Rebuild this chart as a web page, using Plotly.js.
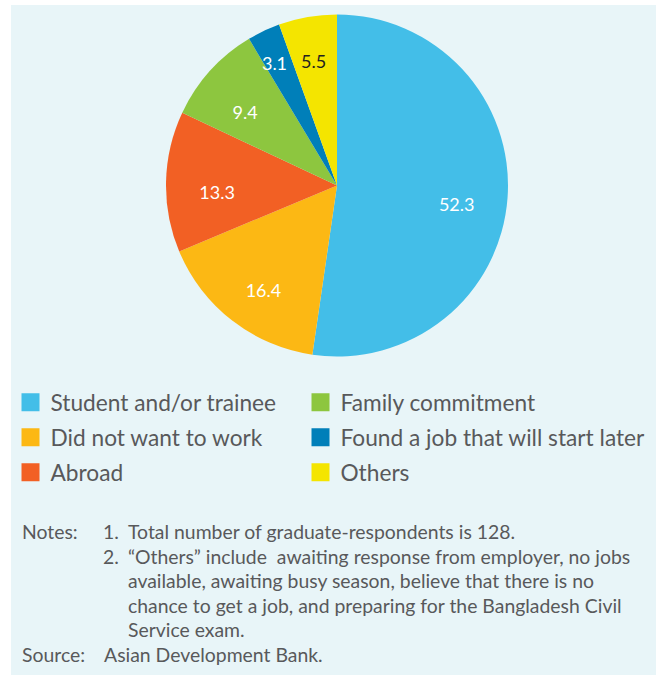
<!DOCTYPE html>
<html>
<head>
<meta charset="utf-8">
<script src="https://cdn.plot.ly/plotly-3.0.1.min.js"></script>
<style>
  html, body { margin: 0; padding: 0; background: #ffffff; }
  #chart { width: 656px; height: 675px; }
</style>
</head>
<body>
<div id="chart"></div>
<script>
// slices, clockwise from 12 o'clock
let categories = ['Student and/or trainee', 'Did not want to work', 'Abroad',
                  'Family commitment', 'Found a job that will start later', 'Others'];
let shares = [52.3, 16.4, 13.3, 9.4, 3.1, 5.5];
let sliceColors = ['#43bee8', '#fcb814', '#f26024', '#8dc63f', '#007fb9', '#f4e500'];
let labelColors = ['#ffffff', '#ffffff', '#ffffff', '#ffffff', '#ffffff', '#231f20'];
let legendColumn = ['legend', 'legend', 'legend', 'legend2', 'legend2', 'legend2'];

// notes under the chart
let noteHeads = ['Notes:', '', '', '', '', 'Source:'];
let noteNums = ['1.', '2.', '', '', '', ''];
let noteLines = [
  'Total number of graduate-respondents is 128.',
  '\u201cOthers\u201d include  awaiting response from employer, no jobs',
  'available, awaiting busy season, believe that there is no',
  'chance to get a job, and preparing for the Bangladesh Civil',
  'Service exam.',
  'Asian Development Bank.'
];

const W = 656, H = 675;
const FONT = 'Lato, "Open Sans", sans-serif';
const TEXT = '#58595b';
function px(x) { return x / W; }
function py(y) { return 1 - y / H; }

// pie centre and radius in page pixels
const cx = 337, cy = 185.5, r = 171;
// the label ring sits a little lower and tighter than the pie itself
const lcy = 195, lr = 160;

let pie = {
  type: 'pie',
  labels: categories,
  values: shares,
  sort: false,
  direction: 'clockwise',
  rotation: 0,
  marker: { colors: sliceColors, line: { width: 0 } },
  textinfo: 'none',
  showlegend: false,
  hoverinfo: 'label+value',
  domain: { x: [px(cx - r), px(cx + r)], y: [py(cy + r), py(cy - r)] }
};

// same slices again, see-through ring, only to carry the value labels
let pieLabels = {
  type: 'pie',
  labels: categories,
  values: shares,
  sort: false,
  direction: 'clockwise',
  rotation: 0,
  hole: 0.5,
  marker: { colors: categories.map(() => 'rgba(0,0,0,0)'), line: { width: 0 } },
  texttemplate: '%{value}',
  textposition: 'inside',
  insidetextorientation: 'horizontal',
  textfont: { family: FONT, size: 18, color: labelColors },
  showlegend: false,
  hoverinfo: 'skip',
  domain: { x: [px(cx - lr), px(cx + lr)], y: [py(lcy + lr), py(lcy - lr)] }
};

// legend keys in two columns
let keys = categories.map((name, i) => ({
  type: 'scatter',
  mode: 'markers',
  x: [null], y: [null],
  name: name,
  legend: legendColumn[i],
  legendgroup: 'g' + i,
  marker: { symbol: 'square', size: 16, color: sliceColors[i],
            line: { width: 2, color: sliceColors[i] } },
  hoverinfo: 'skip'
}));

let annotations = [];
const lineY = 531.5, lineStep = 24.6;
for (let i = 0; i < noteLines.length; i++) {
  let y = py(lineY + i * lineStep);
  let base = { xref: 'paper', yref: 'paper', xanchor: 'left', yanchor: 'middle',
               showarrow: false, font: { family: FONT, size: 19.4, color: TEXT } };
  if (noteHeads[i]) annotations.push(Object.assign({}, base, { x: px(20), y: y, text: noteHeads[i] }));
  if (noteNums[i]) annotations.push(Object.assign({}, base, { x: px(101), y: y, text: noteNums[i] }));
  let lx = (i === noteLines.length - 1) ? 102 : 126;
  annotations.push(Object.assign({}, base, { x: px(lx), y: y, text: noteLines[i] }));
}

let legendStyle = {
  orientation: 'v',
  xanchor: 'left', yanchor: 'top',
  y: py(381),
  bgcolor: 'rgba(0,0,0,0)',
  borderwidth: 0,
  traceorder: 'grouped',
  tracegroupgap: 2.5,
  font: { family: FONT, size: 22.7, color: TEXT }
};

let layout = {
  width: W,
  height: H,
  margin: { l: 0, r: 0, t: 0, b: 0 },
  paper_bgcolor: '#ffffff',
  plot_bgcolor: 'rgba(0,0,0,0)',
  font: { family: FONT, color: TEXT },
  xaxis: { visible: false },
  yaxis: { visible: false },
  showlegend: true,
  legend: Object.assign({}, legendStyle, { x: px(10.5) }),
  legend2: Object.assign({}, legendStyle, { x: px(300.5) }),
  shapes: [{
    type: 'rect', xref: 'paper', yref: 'paper', layer: 'below',
    x0: px(11), x1: 1, y0: 0, y1: py(5),
    fillcolor: '#e8f5f8', line: { width: 0 }
  }],
  uniformtext: { mode: 'show', minsize: 18 },
  annotations: annotations
};

Plotly.newPlot('chart', [pie, pieLabels].concat(keys), layout, { displayModeBar: false, staticPlot: true });
</script>
</body>
</html>
